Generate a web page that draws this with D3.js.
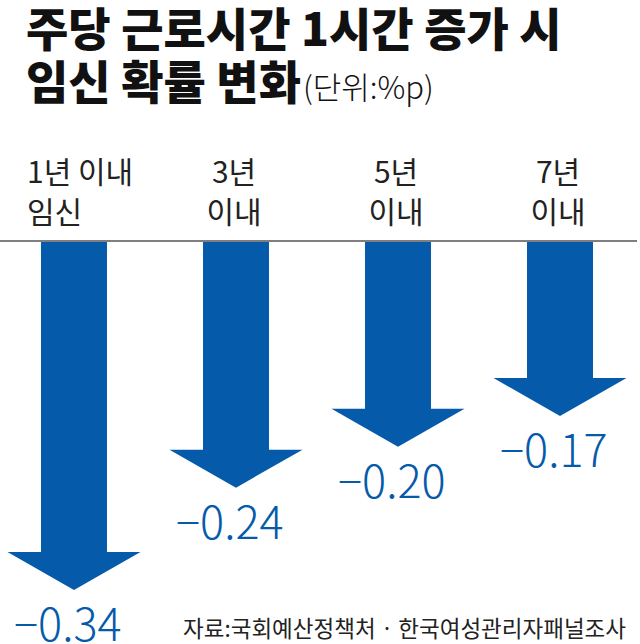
<!DOCTYPE html>
<html><head><meta charset="utf-8">
<script src="https://cdn.jsdelivr.net/npm/d3@7"></script>
<style>
html,body{margin:0;padding:0;background:#fff;}
svg{display:block;}
text{font-family:"Noto Sans CJK KR","Noto Sans",sans-serif;}
</style></head>
<body>
<script>
const titleLines = ["주당 근로시간 1시간 증가 시", "임신 확률 변화"];
const unitLabel = "(단위:%p)";
const categories = [["1년 이내", "임신"], ["3년", "이내"], ["5년", "이내"], ["7년", "이내"]];
const values = [-0.34, -0.24, -0.20, -0.17];
const sourceText = "자료:국회예산정책처 · 한국여성관리자패널조사";

const W = 640, H = 644;
const svg = d3.select("body").append("svg").attr("width", W).attr("height", H);

const blue = "#065aaa";

// title
svg.append("text").attr("x", 26).attr("y", 46)
  .attr("font-size", 46).attr("font-weight", 900).attr("fill", "#111").text(titleLines[0]);
const t2 = svg.append("text").attr("x", 26).attr("y", 99)
  .attr("font-size", 46).attr("font-weight", 900).attr("fill", "#111");
t2.append("tspan").text(titleLines[1]);
t2.append("tspan").attr("font-size", 31).attr("font-weight", 300).attr("dx", 2).text(unitLabel);

// scales
const x = d3.scalePoint().domain(d3.range(categories.length)).range([74, 560]);
const y = d3.scaleLinear().domain([0, -0.34]).range([242, 590]);

// baseline
svg.append("line").attr("x1", 0).attr("x2", 637).attr("y1", y(0) - 1).attr("y2", y(0) - 1)
  .attr("stroke", "#555").attr("stroke-width", 1.5);

// category labels
const catG = svg.append("g");
categories.forEach((lines, i) => {
  const t = catG.append("text")
    .attr("font-size", 30).attr("fill", "#222")
    .attr("text-anchor", i === 0 ? "start" : "middle");
  lines.forEach((ln, j) => {
    t.append("tspan").attr("x", i === 0 ? 27 : x(i) - 2).attr("y", 183 + j * 40).text(ln);
  });
});

// arrows
const shaftHalf = 33, headHalf = 66.5, headH = 38;
const arrowPath = (i, v) => {
  const cx = x(i), top = y(0), tip = y(v), hb = tip - headH;
  return `M${cx - shaftHalf},${top}L${cx + shaftHalf},${top}L${cx + shaftHalf},${hb}` +
    `L${cx + headHalf},${hb}L${cx},${tip}L${cx - headHalf},${hb}L${cx - shaftHalf},${hb}Z`;
};
svg.append("g").selectAll("path").data(values).join("path")
  .attr("d", (v, i) => arrowPath(i, v)).attr("fill", blue);

// value labels
const fmt = d3.format(".2f");
svg.append("g").selectAll("text").data(values).join("text")
  .attr("x", (v, i) => x(i) - 60).attr("y", v => y(v) + 51)
  .attr("font-size", 45).attr("font-weight", 300).attr("fill", blue)
  .text(v => fmt(v));

// source
svg.append("text").attr("x", 626).attr("y", 637).attr("text-anchor", "end")
  .attr("font-size", 22.5).attr("fill", "#222").text(sourceText);
</script>
</body></html>
